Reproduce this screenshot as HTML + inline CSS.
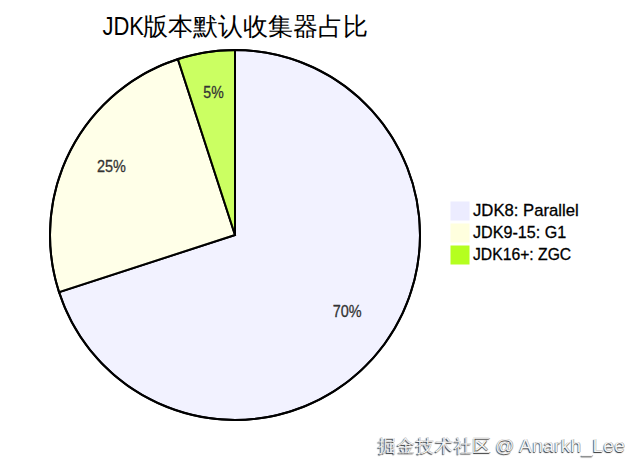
<!DOCTYPE html>
<html><head><meta charset="utf-8">
<style>
html,body{margin:0;padding:0;background:#fff;width:638px;height:470px;overflow:hidden}
svg{position:absolute;left:0;top:0}
text{font-family:"Liberation Sans",sans-serif}
.wm{position:absolute;font-family:"Liberation Sans",sans-serif;color:#f6f6f6;white-space:nowrap;line-height:20px;-webkit-text-stroke:0.15px #bbb;text-shadow:-0.6px 0.8px 0.9px #333,0.4px 0.3px 0.6px #999}
</style></head><body>
<svg width="638" height="470" viewBox="0 0 638 470">
<g transform="translate(235,235)">
<path d="M0,-185A185,185 0 1 1 -175.95,57.17L0,0Z" fill="#ECECFF" fill-opacity="0.7" stroke="#000" stroke-width="2"/>
<path d="M-175.95,57.17A185,185 0 0 1 -57.17,-175.95L0,0Z" fill="#ffffde" fill-opacity="0.7" stroke="#000" stroke-width="2"/>
<path d="M-57.17,-175.95A185,185 0 0 1 0,-185L0,0Z" fill="#B5FF20" fill-opacity="0.7" stroke="#000" stroke-width="2"/>
<circle cx="0" cy="0" r="185" fill="none" stroke="#000" stroke-width="2"/>
</g>
<text transform="translate(347.25,316.56) scale(0.85,1)" text-anchor="middle" font-size="17" fill="#333" stroke="#333" stroke-width="0.3">70%</text>
<text transform="translate(111.4,172) scale(0.85,1)" text-anchor="middle" font-size="17" fill="#333" stroke="#333" stroke-width="0.3">25%</text>
<text transform="translate(213.5,97.96) scale(0.83,1)" text-anchor="middle" font-size="17" fill="#333" stroke="#333" stroke-width="0.3">5%</text>
<text transform="translate(102.5,35) scale(0.88,1)" font-size="25" fill="#000">JDK</text>
<text x="143" y="35" font-size="25" fill="#000">版本默认收集器占比</text>
<g transform="translate(451,202)"><rect width="18" height="18" fill="#ECECFF" stroke="#ECECFF"/><text transform="translate(22,14) scale(0.982,1)" font-size="17" fill="#000" stroke="#000" stroke-width="0.3">JDK8: Parallel</text></g>
<g transform="translate(451,224)"><rect width="18" height="18" fill="#ffffde" stroke="#ffffde"/><text transform="translate(22,14) scale(0.949,1)" font-size="17" fill="#000" stroke="#000" stroke-width="0.3">JDK9-15: G1</text></g>
<g transform="translate(451,246)"><rect width="18" height="18" fill="#B5FF20" stroke="#B5FF20"/><text transform="translate(22,14) scale(0.925,1)" font-size="17" fill="#000" stroke="#000" stroke-width="0.3">JDK16+: ZGC</text></g>
</svg>
<div class="wm" style="left:378px;top:435.7px;font-size:18px;letter-spacing:0.9px">掘金技术社区</div>
<div class="wm" style="left:495px;top:436px;font-size:19px;letter-spacing:0.35px">@ Anarkh_Lee</div>
</body></html>
